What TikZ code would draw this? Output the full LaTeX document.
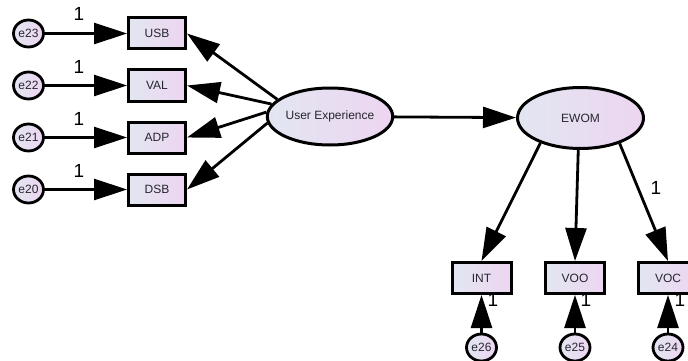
\documentclass[tikz,border=0pt]{standalone}
\usepackage{fontspec}
\setmainfont{Liberation Sans}
\usetikzlibrary{arrows.meta,shapes.geometric}
\definecolor{shadeL}{RGB}{226,230,241}
\definecolor{shadeR}{RGB}{237,213,241}
\definecolor{ink}{RGB}{38,38,46}
\begin{document}
\begin{tikzpicture}[x=1pt,y=-1pt,
  every node/.style={text=ink, font=\fontsize{12}{14}\selectfont},
  obsbox/.style={draw=black, line width=3pt, rectangle, inner sep=0pt,
    minimum width=57pt, minimum height=31pt, left color=shadeL, right color=shadeR},
  errnode/.style={draw=black, line width=2.8pt, ellipse, inner sep=0pt,
    minimum width=30pt, minimum height=27pt, left color=shadeL, right color=shadeR},
  latnode/.style={draw=black, line width=3pt, ellipse, inner sep=0pt,
    left color=shadeL, right color=shadeR},
  arr/.style={line width=2.8pt, -{Triangle[length=33pt,width=21pt]}},
  weight/.style={text=black, font=\fontsize{19}{20}\selectfont, inner sep=0pt}
]
\useasboundingbox (0,0) rectangle (688,361);
\clip (0,0) rectangle (688,361);

% indicators of User Experience with their error terms
\node[errnode] (e23) at (28.5,33.5) {e23};
\node[errnode] (e22) at (28.5,85.5) {e22};
\node[errnode] (e21) at (28.5,137.5) {e21};
\node[errnode] (e20) at (28.5,189.5) {e20};
\node[obsbox] (USB) at (157,33.5) {USB};
\node[obsbox] (VAL) at (157,85.5) {VAL};
\node[obsbox] (ADP) at (157,137.5) {ADP};
\node[obsbox] (DSB) at (157,189.5) {DSB};

% latent constructs
\node[latnode, minimum width=123pt, minimum height=57pt] (UE) at (330,116.5) {User Experience};
\node[latnode, minimum width=126pt, minimum height=61pt] (EWOM) at (580.5,118) {EWOM};

% indicators of EWOM with their error terms
\node[obsbox, minimum width=59pt] (INT) at (481.5,278) {INT};
\node[obsbox, minimum width=59pt] (VOO) at (575,278) {VOO};
\node[obsbox, minimum width=59pt] (VOC) at (668,278) {VOC};
\node[errnode] (e26) at (481.5,347.5) {e26};
\node[errnode] (e25) at (575,347.5) {e25};
\node[errnode] (e24) at (668,347.5) {e24};

% error paths
\draw[arr] (e23) -- (USB);
\draw[arr] (e22) -- (VAL);
\draw[arr] (e21) -- (ADP);
\draw[arr] (e20) -- (DSB);
\draw[arr] (e26) -- (INT);
\draw[arr] (e25) -- (VOO);
\draw[arr] (e24) -- (VOC);

% loadings
\draw[arr] (UE.162) -- (USB.east);
\draw[arr] (UE.168) -- (VAL.east);
\draw[arr] (UE.176) -- (ADP.east);
\draw[arr] (UE.186) -- (DSB.east);
\draw[arr] (UE) -- (EWOM);
\draw[arr] (EWOM.212) -- (INT.north);
\draw[arr] (EWOM.266) -- (VOO.north);
\draw[arr] (EWOM.327) -- (VOC.north);

% fixed parameters
\node[weight] (w23) at (79,14) {1};
\node[weight] (w22) at (79,66.5) {1};
\node[weight] (w21) at (79,118.5) {1};
\node[weight] (w20) at (79,170.5) {1};
\node[weight] (wvoc) at (656,188) {1};
\node[weight] (w26) at (493,300) {1};
\node[weight] (w25) at (586,300) {1};
\node[weight] (w24) at (680,300) {1};
\end{tikzpicture}
\end{document}
